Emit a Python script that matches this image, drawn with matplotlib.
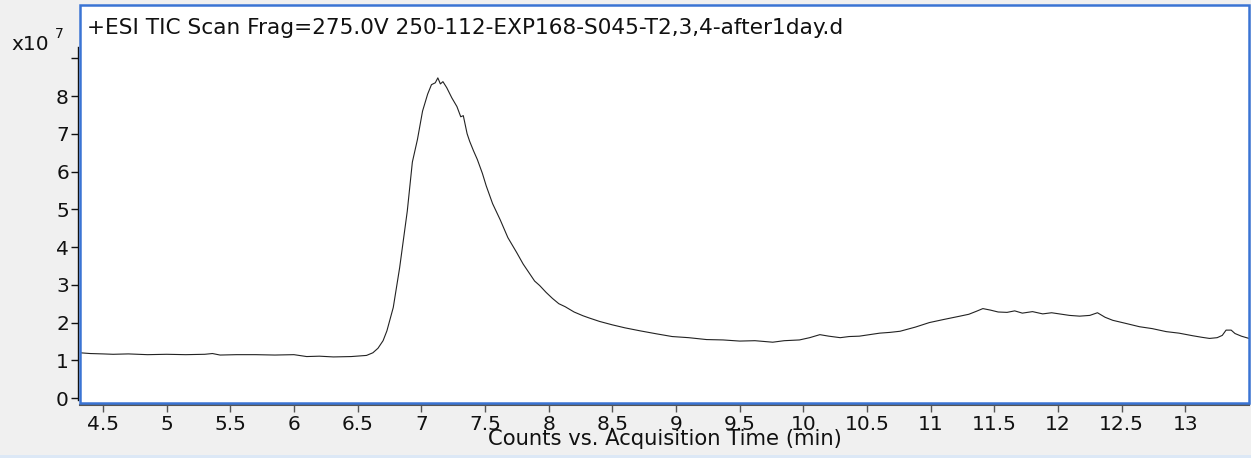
import matplotlib
matplotlib.use("Agg")
import matplotlib.pyplot as plt
from matplotlib.patches import Rectangle

plt.rcParams['font.family'] = ['DejaVu Sans']

# Total ion chromatogram, counts in units of 1e7
time_min = [4.32, 4.40, 4.50, 4.58, 4.70, 4.85, 5.00, 5.15, 5.30, 5.36, 5.42, 5.55,
            5.70, 5.85, 6.00, 6.10, 6.20, 6.31, 6.45, 6.57, 6.62, 6.66, 6.70, 6.73,
            6.78, 6.83, 6.89, 6.93, 6.97, 7.01, 7.05, 7.08, 7.11, 7.13, 7.15, 7.17,
            7.20, 7.24, 7.28, 7.31, 7.33, 7.36, 7.38, 7.41, 7.44, 7.48, 7.51, 7.56,
            7.62, 7.68, 7.75, 7.80, 7.85, 7.89, 7.93, 7.98, 8.03, 8.08, 8.13, 8.20,
            8.27, 8.32, 8.40, 8.50, 8.60, 8.72, 8.85, 8.97, 9.10, 9.24, 9.37, 9.50,
            9.62, 9.76, 9.85, 9.97, 10.05, 10.13, 10.20, 10.29, 10.36, 10.44, 10.52,
            10.60, 10.68, 10.76, 10.88, 10.99, 11.10, 11.23, 11.30, 11.36, 11.41,
            11.47, 11.53, 11.60, 11.66, 11.72, 11.80, 11.88, 11.95, 12.01, 12.09,
            12.17, 12.25, 12.31, 12.37, 12.43, 12.53, 12.64, 12.74, 12.85, 12.95,
            13.06, 13.13, 13.19, 13.25, 13.29, 13.32, 13.36, 13.39, 13.44, 13.50]
counts_e7 = [1.20, 1.18, 1.17, 1.16, 1.17, 1.15, 1.16, 1.15, 1.16, 1.18, 1.14, 1.15,
             1.15, 1.14, 1.15, 1.10, 1.11, 1.09, 1.10, 1.13, 1.20, 1.32, 1.52, 1.78,
             2.40, 3.45, 4.95, 6.25, 6.85, 7.60, 8.05, 8.30, 8.35, 8.48, 8.32, 8.38,
             8.22, 7.95, 7.72, 7.45, 7.48, 7.00, 6.80, 6.55, 6.32, 5.95, 5.62, 5.15,
             4.72, 4.25, 3.85, 3.55, 3.30, 3.10, 2.98, 2.80, 2.64, 2.50, 2.42, 2.28,
             2.18, 2.12, 2.03, 1.94, 1.86, 1.78, 1.70, 1.63, 1.60, 1.55, 1.54, 1.51,
             1.52, 1.48, 1.52, 1.54, 1.60, 1.68, 1.64, 1.60, 1.63, 1.64, 1.68,
             1.72, 1.74, 1.77, 1.88, 2.00, 2.08, 2.17, 2.22, 2.30, 2.37,
             2.33, 2.28, 2.27, 2.31, 2.25, 2.29, 2.23, 2.26, 2.23, 2.19,
             2.17, 2.19, 2.26, 2.14, 2.06, 1.98, 1.89, 1.84, 1.76, 1.72,
             1.65, 1.61, 1.58, 1.60, 1.66, 1.80, 1.80, 1.71, 1.64, 1.58]

x_ticks = [4.5, 5, 5.5, 6, 6.5, 7, 7.5, 8, 8.5, 9, 9.5, 10, 10.5, 11, 11.5, 12, 12.5, 13]
x_tick_labels = ['4.5', '5', '5.5', '6', '6.5', '7', '7.5', '8', '8.5', '9', '9.5',
                 '10', '10.5', '11', '11.5', '12', '12.5', '13']
y_ticks = [0, 1, 2, 3, 4, 5, 6, 7, 8, 9]
y_tick_labels = ['0', '1', '2', '3', '4', '5', '6', '7', '8', '']

title = '+ESI TIC Scan Frag=275.0V 250-112-EXP168-S045-T2,3,4-after1day.d'
x_label = 'Counts vs. Acquisition Time (min)'

FS = 14.5
W, H = 1251, 458
fig = plt.figure(figsize=(W / 100, H / 100), dpi=100, facecolor='#f0f0f0')

ax_l, ax_r, ax_t, ax_b = 80, 1249, 5, 403
ax = fig.add_axes([ax_l / W, 1 - ax_b / H, (ax_r - ax_l) / W, (ax_b - ax_t) / H])
ax.set_facecolor('white')

ax.plot(time_min, counts_e7, color='#222222', lw=0.8)

ax.set_xlim(4.32, 13.50)
ax.set_ylim(-0.13, 10.41)

ax.set_xticks(x_ticks)
ax.set_xticklabels(x_tick_labels)
ax.set_yticks(y_ticks)
ax.set_yticklabels(y_tick_labels)
ax.tick_params(axis='both', labelsize=FS, colors='#111111', length=5, width=1)
ax.tick_params(axis='x', direction='out', color='#555555', pad=2)
ax.tick_params(axis='y', direction='out', color='#111111', pad=1.5)

for side in ('top', 'right'):
    ax.spines[side].set_visible(False)
ax.spines['left'].set_position(('outward', 1.5))
ax.spines['left'].set_color('#111111')
ax.spines['left'].set_linewidth(1)
ax.spines['left'].set_bounds(-0.05, 9.3)
ax.spines['bottom'].set_position(('outward', 1.5))
ax.spines['bottom'].set_color('#555555')
ax.spines['bottom'].set_linewidth(1.5)

# blue plot frame
frame = Rectangle((0, 0), 1, 1, transform=ax.transAxes, fill=False,
                  edgecolor='#3a74d4', lw=1.8, zorder=5, clip_on=False)
ax.add_patch(frame)

ax.text(7 / (ax_r - ax_l), 1 - 29 / (ax_b - ax_t), title, transform=ax.transAxes,
        fontsize=15.6, color='#111111', ha='left', va='baseline')

fig.text(665 / W, 1 - 445 / H, x_label, fontsize=15.2, color='#111111',
         ha='center', va='baseline')
fig.text(11 / W, 1 - 50 / H, 'x10', fontsize=FS, color='#111111',
         ha='left', va='baseline')
fig.text(55 / W, 1 - 38 / H, '7', fontsize=10, color='#111111',
         ha='left', va='baseline')

# thin light strip along the bottom edge
fig.patches.append(Rectangle((0, 0), 1, 3 / H, transform=fig.transFigure,
                             facecolor='#dce8f6', edgecolor='none'))

fig.savefig('out.png', dpi=100, facecolor=fig.get_facecolor())
